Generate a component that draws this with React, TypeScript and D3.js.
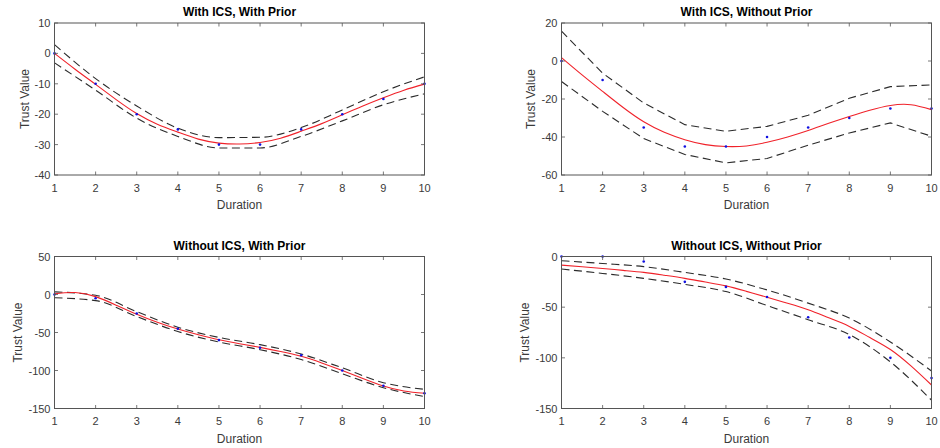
import React from 'react';
import * as d3 from 'd3';

const durations = [1, 2, 3, 4, 5, 6, 7, 8, 9, 10];
const fitDurations = [1, 1.5, 2, 2.5, 3, 3.5, 4, 4.5, 5, 5.5, 6, 6.5, 7, 7.5, 8, 8.5, 9, 9.5, 10];

// With ICS, With Prior
const icsPriorObs = [0, -10, -20, -25, -30, -30, -25, -20, -15, -10];
const icsPriorFit = [0, -5.2, -10.2, -15.2, -19.8, -23.3, -25.9, -28.2, -29.5, -29.8, -29.3, -27.9, -25.6, -23.1, -20.2, -17.3, -14.6, -12.1, -10.1];
const icsPriorUpper = [2.9, -8.3, -17.3, -24.6, -27.7, -27.6, -24.4, -18.6, -12.6, -7.7];
const icsPriorLower = [-3.1, -12.1, -21.3, -27.3, -31.1, -31.1, -27.3, -22.2, -16.9, -13.3];

// With ICS, Without Prior
const icsNoPriorObs = [0, -10, -35, -45, -45, -40, -35, -30, -25, -25];
const icsNoPriorFit = [1.8, -7.3, -16, -24.5, -32, -37.5, -41.4, -44, -45, -44.7, -42.8, -40, -36.6, -32.8, -29.2, -25.9, -23.4, -23, -25.6];
const icsNoPriorUpper = [15.7, -6.4, -22.1, -33.5, -37, -34.4, -28.6, -19.6, -13.5, -12.6];
const icsNoPriorLower = [-10.8, -26.5, -40.8, -49.2, -53.6, -51.3, -44.3, -37.9, -32.6, -39.6];

// Without ICS, With Prior
const noIcsPriorObs = [0, -5, -25, -45, -60, -70, -80, -100, -120, -130];
const noIcsPriorFit = [1, 2.6, -2.8, -14, -26, -36.5, -45.5, -53, -59.5, -64.7, -69.6, -75, -81.3, -90, -100, -110.5, -120.4, -127, -130];
const noIcsPriorUpper = [3.5, -1, -22.6, -43, -56.5, -66, -78.3, -96.5, -116, -124.8];
const noIcsPriorLower = [-4.3, -8, -29, -48.7, -62.6, -72.6, -85.6, -104.3, -122.6, -134.3];

// Without ICS, Without Prior
const noIcsNoPriorObs = [0, 0, -5, -25, -30, -40, -60, -80, -100, -120];
const noIcsNoPriorFit = [-8.5, -10.1, -11.8, -13.7, -15.7, -18.5, -21.6, -25.2, -29, -34.4, -40.2, -46.2, -52.6, -60.5, -69, -80, -91.8, -108, -126.8];
const noIcsNoPriorUpper = [-4.2, -6.9, -10, -15.7, -22.2, -33, -46, -60.8, -84.3, -113];
const noIcsNoPriorLower = [-12.4, -16.7, -21.6, -27.5, -34.6, -48.4, -62.4, -77, -104, -141.8];

const yTicks1 = [-40, -30, -20, -10, 0, 10];
const yTicks2 = [-60, -40, -20, 0, 20];
const yTicks3 = [-150, -100, -50, 0, 50];
const yTicks4 = [-150, -100, -50, 0];

const panels = [
  { title: 'With ICS, With Prior', obs: icsPriorObs, fit: icsPriorFit, upper: icsPriorUpper, lower: icsPriorLower,
    yTicks: yTicks1, left: 54.5, top: 23, labelOffset: 26, boundCurve: d3.curveMonotoneX },
  { title: 'With ICS, Without Prior', obs: icsNoPriorObs, fit: icsNoPriorFit, upper: icsNoPriorUpper, lower: icsNoPriorLower,
    yTicks: yTicks2, left: 561.5, top: 23, labelOffset: 26.5, boundCurve: d3.curveLinear },
  { title: 'Without ICS, With Prior', obs: noIcsPriorObs, fit: noIcsPriorFit, upper: noIcsPriorUpper, lower: noIcsPriorLower,
    yTicks: yTicks3, left: 54.5, top: 256.5, labelOffset: 33, boundCurve: d3.curveMonotoneX },
  { title: 'Without ICS, Without Prior', obs: noIcsNoPriorObs, fit: noIcsNoPriorFit, upper: noIcsNoPriorUpper, lower: noIcsNoPriorLower,
    yTicks: yTicks4, left: 561.5, top: 256.5, labelOffset: 33, boundCurve: d3.curveMonotoneX },
];

const plotW = 370;
const plotH = 152;
const tickLen = 3.5;
const axisColor = '#555';
const textColor = '#3a3a3a';
const font = '"Liberation Sans", Arial, Helvetica, sans-serif';

function Panel({ p }) {
  const x = d3.scaleLinear().domain([1, 10]).range([0, plotW]);
  const y = d3.scaleLinear().domain(d3.extent(p.yTicks)).range([plotH, 0]);

  const fitLine = d3.line().x((d) => x(d[0])).y((d) => y(d[1])).curve(d3.curveNatural);
  const boundLine = d3.line().x((d) => x(d[0])).y((d) => y(d[1])).curve(p.boundCurve);

  const fitPts = fitDurations.map((t, i) => [t, p.fit[i]]);
  const upPts = durations.map((t, i) => [t, p.upper[i]]);
  const loPts = durations.map((t, i) => [t, p.lower[i]]);

  return (
    <g transform={`translate(${p.left},${p.top})`} fontFamily={font}>
      <rect x={0} y={0} width={plotW} height={plotH} fill="#fff" />
      <path d={boundLine(upPts)} fill="none" stroke="#2b2b2b" strokeWidth={1.1} strokeDasharray="8,4.5" />
      <path d={boundLine(loPts)} fill="none" stroke="#2b2b2b" strokeWidth={1.1} strokeDasharray="8,4.5" />
      <path d={fitLine(fitPts)} fill="none" stroke="#f0222a" strokeWidth={1.1} />
      {durations.map((t, i) => (
        <circle key={'o' + i} cx={x(t)} cy={y(p.obs[i])} r={1.3} fill="#1010e0" />
      ))}
      <rect x={0} y={0} width={plotW} height={plotH} fill="none" stroke={axisColor} strokeWidth={1} />
      {durations.map((t) => (
        <g key={'xt' + t}>
          <line x1={x(t)} x2={x(t)} y1={plotH} y2={plotH - tickLen} stroke={axisColor} strokeWidth={0.8} />
          <line x1={x(t)} x2={x(t)} y1={0} y2={tickLen} stroke={axisColor} strokeWidth={0.8} />
          <text x={x(t)} y={plotH + 16.5} textAnchor="middle" fontSize={11} fill={textColor}>{t}</text>
        </g>
      ))}
      {p.yTicks.map((v) => (
        <g key={'yt' + v}>
          <line x1={0} x2={tickLen} y1={y(v)} y2={y(v)} stroke={axisColor} strokeWidth={0.8} />
          <line x1={plotW} x2={plotW - tickLen} y1={y(v)} y2={y(v)} stroke={axisColor} strokeWidth={0.8} />
          <text x={-4} y={y(v) + 4} textAnchor="end" fontSize={11} fill={textColor}>{v}</text>
        </g>
      ))}
      <text x={plotW / 2} y={-7} textAnchor="middle" fontSize={12} fontWeight="bold" fill="#000">{p.title}</text>
      <text x={plotW / 2} y={plotH + 34} textAnchor="middle" fontSize={12} fill={textColor}>Duration</text>
      <text transform={`translate(${-p.labelOffset},${plotH / 2}) rotate(-90)`} textAnchor="middle" fontSize={12} fill={textColor}>Trust Value</text>
    </g>
  );
}

export default function App() {
  return (
    <svg width={940} height={448} style={{ position: 'absolute', left: 0, top: 0, background: '#fff' }}>
      <rect width={940} height={448} fill="#fff" />
      {panels.map((p, i) => (
        <Panel key={i} p={p} />
      ))}
    </svg>
  );
}
